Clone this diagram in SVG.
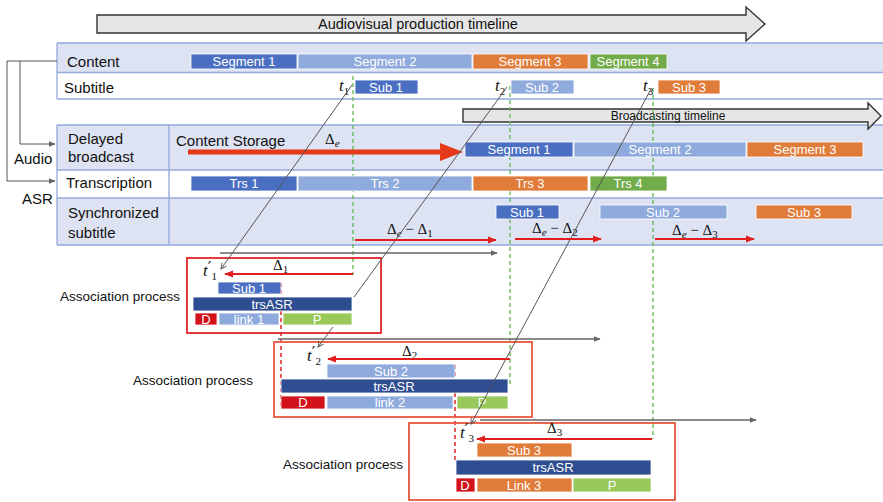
<svg xmlns="http://www.w3.org/2000/svg" width="883" height="502" viewBox="0 0 883 502">
<defs>
<style>
.lbl{font-family:"Liberation Sans",Arial,sans-serif;font-size:15px;fill:#111}
.sm{font-size:12px}
.ap{font-size:13.5px}
.tt{font-size:14.5px}
.bt{font-family:"Liberation Sans",Arial,sans-serif;font-size:13px;fill:#fff;text-anchor:middle}
.m{font-family:"Liberation Serif","DejaVu Serif",serif;fill:#111}
.pr{font-family:"DejaVu Sans",sans-serif;font-style:normal;font-size:16px}
.band{fill:#dde3f2}
.wrow{fill:#fff}
.bl{stroke:#92aadc;stroke-width:1.3;fill:none}
.b1{fill:#4a6fc2;stroke:#fff;stroke-width:0.8}
.b2{fill:#8faadc;stroke:#fff;stroke-width:0.8}
.b3{fill:#e07b39;stroke:#fff;stroke-width:0.8}
.b4{fill:#72ab4a;stroke:#fff;stroke-width:0.8}
.nv{fill:#2f4e92;stroke:#fff;stroke-width:0.8}
.dd{fill:#d3111b;stroke:#fff;stroke-width:0.8}
.pp{fill:#98c95a;stroke:#fff;stroke-width:0.8}
.gd{stroke:#5fb64a;stroke-width:1.3;stroke-dasharray:4 3;fill:none}
.rd{stroke:#e0202a;stroke-width:1.5;stroke-dasharray:4 3;fill:none}
.gl{stroke:#555;stroke-width:1;fill:none}
.ga{stroke:#666;stroke-width:1.3;fill:none}
.ra{stroke:#e01e1e;stroke-width:2;fill:none}
.tl{fill:#e6e6e6;stroke:#333;stroke-width:1.4}
</style>
<marker id="oa" viewBox="0 0 10 10" refX="9" refY="5" markerWidth="7" markerHeight="7" orient="auto" markerUnits="userSpaceOnUse">
<path d="M1,1 L9,5 L1,9" fill="none" stroke="#555" stroke-width="1.3"/>
</marker>
<marker id="ga" viewBox="0 0 10 10" refX="9" refY="5" markerWidth="7" markerHeight="7" orient="auto" markerUnits="userSpaceOnUse">
<path d="M0,1 L10,5 L0,9 z" fill="#666"/>
</marker>
<marker id="ra" viewBox="0 0 10 10" refX="9" refY="5" markerWidth="9" markerHeight="9" orient="auto" markerUnits="userSpaceOnUse">
<path d="M0,1 L10,5 L0,9 z" fill="#e01e1e"/>
</marker>
</defs>

<!-- top timeline -->
<g id="prodTimeline">
<polygon class="tl" points="97,15 746,15 746,7 765,24 746,41 746,33 97,33"/>
<text class="lbl tt" x="318" y="29">Audiovisual production timeline</text>
</g>

<!-- upper panel -->
<g id="upperPanel">
<rect class="band" x="57" y="43" width="826" height="29"/>
<rect class="wrow" x="57" y="72" width="826" height="27"/>
<line class="bl" x1="57" y1="43" x2="883" y2="43"/>
<line class="bl" x1="57" y1="72.5" x2="883" y2="72.5"/>
<line class="bl" x1="57" y1="99" x2="883" y2="99"/>
<line class="bl" x1="57" y1="43" x2="57" y2="99"/>
<text class="lbl" x="67" y="67">Content</text>
<text class="lbl" x="64" y="93">Subtitle</text>
</g>

<!-- lower panel -->
<g id="lowerPanel">
<rect class="band" x="57" y="125" width="826" height="45"/>
<rect class="wrow" x="57" y="170" width="826" height="28"/>
<rect class="band" x="57" y="198" width="826" height="47"/>
<line class="bl" x1="57" y1="125" x2="883" y2="125"/>
<line class="bl" x1="57" y1="170" x2="883" y2="170"/>
<line class="bl" x1="57" y1="198" x2="883" y2="198"/>
<line class="bl" x1="57" y1="245" x2="883" y2="245"/>
<line class="bl" x1="57" y1="125" x2="57" y2="245"/>
<line class="bl" x1="169" y1="125" x2="169" y2="245"/>
<text class="lbl" x="68" y="144">Delayed</text>
<text class="lbl" x="68" y="162">broadcast</text>
<text class="lbl" x="66" y="188">Transcription</text>
<text class="lbl" x="68" y="218">Synchronized</text>
<text class="lbl" x="68" y="238">subtitle</text>
</g>

<g id="broadcastTimeline">
<polygon class="tl" points="463,109 868,109 868,103 881,116 868,129 868,122 463,122"/>
<text class="lbl sm" x="668" y="120" text-anchor="middle">Broadcasting timeline</text>
</g>

<g id="sideLabels">
<text class="lbl" x="14" y="164">Audio</text>
<text class="lbl" x="22" y="204">ASR</text>
</g>

<!-- guide lines -->
<g id="guides">
<line class="gd" x1="353" y1="76" x2="353" y2="275"/>
<line class="gd" x1="510" y1="86" x2="510" y2="384"/>
<line class="gd" x1="653" y1="88" x2="653" y2="439"/>
<line class="rd" x1="281" y1="283" x2="281" y2="408"/>
<line class="rd" x1="455" y1="365" x2="455" y2="460"/>
</g>

<!-- content row -->
<g id="cSeg1"><rect class="b1" x="191" y="54" width="106" height="15"/><text class="bt" x="244" y="66">Segment 1</text></g>
<g id="cSeg2"><rect class="b2" x="298" y="54" width="174" height="15"/><text class="bt" x="385" y="66">Segment 2</text></g>
<g id="cSeg3"><rect class="b3" x="473" y="54" width="115" height="15"/><text class="bt" x="530" y="66">Segment 3</text></g>
<g id="cSeg4"><rect class="b4" x="590" y="54" width="77" height="15"/><text class="bt" x="628" y="66">Segment 4</text></g>

<!-- subtitle row -->
<g id="sSub1"><rect class="b1" x="355" y="80" width="63" height="14"/><text class="bt" x="386" y="91.5">Sub 1</text></g>
<g id="sSub2"><rect class="b2" x="511" y="80" width="63" height="14"/><text class="bt" x="542" y="91.5">Sub 2</text></g>
<g id="sSub3"><rect class="b3" x="658" y="80" width="62" height="14"/><text class="bt" x="689" y="91.5">Sub 3</text></g>
<g id="tLabels" class="m" font-style="italic" font-size="17">
<text x="339" y="91">t<tspan font-size="11" dy="4" font-style="normal">1</tspan></text>
<text x="495" y="91">t<tspan font-size="11" dy="4" font-style="normal">2</tspan></text>
<text x="643" y="91">t<tspan font-size="11" dy="4" font-style="normal">3</tspan></text>
</g>

<!-- delayed broadcast -->
<g id="contentStorage">
<text class="lbl" x="176" y="146">Content Storage</text>
<line x1="188" y1="152" x2="442" y2="152" stroke="#e5391a" stroke-width="5"/>
<polygon points="440,143 463,152 440,161" fill="#e5391a"/>
<text class="m" x="325" y="144" font-size="15">Δ<tspan font-size="11" font-style="italic" dy="3">e</tspan></text>
</g>
<g id="bSeg1"><rect class="b1" x="465" y="142" width="108" height="15"/><text class="bt" x="519" y="154">Segment 1</text></g>
<g id="bSeg2"><rect class="b2" x="574" y="142" width="172" height="15"/><text class="bt" x="660" y="154">Segment 2</text></g>
<g id="bSeg3"><rect class="b3" x="747" y="142" width="116" height="15"/><text class="bt" x="805" y="154">Segment 3</text></g>

<!-- transcription -->
<g id="trs1"><rect class="b1" x="191" y="176" width="106" height="15"/><text class="bt" x="244" y="188">Trs 1</text></g>
<g id="trs2"><rect class="b2" x="298" y="176" width="174" height="15"/><text class="bt" x="385" y="188">Trs 2</text></g>
<g id="trs3"><rect class="b3" x="473" y="176" width="115" height="15"/><text class="bt" x="530" y="188">Trs 3</text></g>
<g id="trs4"><rect class="b4" x="590" y="176" width="77" height="15"/><text class="bt" x="628" y="188">Trs 4</text></g>

<!-- synchronized -->
<g id="ySub1"><rect class="b1" x="496" y="205" width="63" height="14"/><text class="bt" x="527" y="216.5">Sub 1</text></g>
<g id="ySub2"><rect class="b2" x="600" y="205" width="127" height="14"/><text class="bt" x="663" y="216.5">Sub 2</text></g>
<g id="ySub3"><rect class="b3" x="756" y="205" width="96" height="14"/><text class="bt" x="804" y="216.5">Sub 3</text></g>
<g id="syncDeltas" class="m" font-size="15">
<text x="387" y="234">Δ<tspan font-size="11" font-style="italic" dy="3">e</tspan><tspan dy="-3"> − Δ</tspan><tspan font-size="11" dy="3">1</tspan></text>
<text x="532" y="233">Δ<tspan font-size="11" font-style="italic" dy="3">e</tspan><tspan dy="-3"> − Δ</tspan><tspan font-size="11" dy="3">2</tspan></text>
<text x="672" y="235">Δ<tspan font-size="11" font-style="italic" dy="3">e</tspan><tspan dy="-3"> − Δ</tspan><tspan font-size="11" dy="3">3</tspan></text>
</g>

<!-- association box 1 -->
<g id="assoc1">
<rect x="187" y="258" width="194" height="75" fill="none" stroke="#e2262c" stroke-width="1.8"/>
<rect class="b1" x="218" y="282" width="63" height="12"/><text class="bt" x="249" y="292.5">Sub 1</text>
<rect class="nv" x="193" y="297" width="159" height="14"/><text class="bt" x="272" y="308.5">trsASR</text>
<rect class="dd" x="195" y="313" width="22" height="12"/><text class="bt" x="206" y="323.5">D</text>
<rect class="b2" x="219" y="313" width="60" height="12"/><text class="bt" x="249" y="323.5">link 1</text>
<rect class="pp" x="283" y="313" width="69" height="12"/><text class="bt" x="317" y="323.5">P</text>
<text class="m" x="203" y="276" font-size="17" font-style="italic">t<tspan class="pr" dy="-3">′</tspan><tspan font-size="11" dy="7" font-style="normal">1</tspan></text>
<text class="m" x="273" y="270" font-size="15">Δ<tspan font-size="11" dy="3">1</tspan></text>
</g>
<text id="assocLbl1" class="lbl ap" x="60" y="301">Association process</text>

<!-- association box 2 -->
<g id="assoc2">
<rect x="274" y="342" width="258" height="75" fill="none" stroke="#e8583c" stroke-width="1.8"/>
<rect class="b2" x="327" y="364" width="128" height="14"/><text class="bt" x="391" y="375.5">Sub 2</text>
<rect class="nv" x="281" y="379" width="227" height="14"/><text class="bt" x="394" y="390.5">trsASR</text>
<rect class="dd" x="281" y="396" width="44" height="13"/><text class="bt" x="303" y="407">D</text>
<rect class="b2" x="327" y="396" width="126" height="13"/><text class="bt" x="390" y="407">link 2</text>
<rect class="pp" x="457" y="396" width="51" height="13"/><text class="bt" x="482" y="407">P</text>
<text class="m" x="307" y="361" font-size="17" font-style="italic">t<tspan class="pr" dy="-3">′</tspan><tspan font-size="11" dy="7" font-style="normal">2</tspan></text>
<text class="m" x="402" y="356" font-size="15">Δ<tspan font-size="11" dy="3">2</tspan></text>
</g>
<text id="assocLbl2" class="lbl ap" x="133" y="385">Association process</text>

<!-- association box 3 -->
<g id="assoc3">
<rect x="409" y="423" width="266" height="77" fill="none" stroke="#e8583c" stroke-width="1.8"/>
<rect class="b3" x="477" y="443" width="95" height="14"/><text class="bt" x="524" y="454.5">Sub 3</text>
<rect class="nv" x="456" y="460" width="195" height="15"/><text class="bt" x="553" y="472">trsASR</text>
<rect class="dd" x="456" y="478" width="19" height="14"/><text class="bt" x="465" y="489.5">D</text>
<rect class="b3" x="477" y="478" width="95" height="14"/><text class="bt" x="524" y="489.5">Link 3</text>
<rect class="pp" x="573" y="478" width="78" height="14"/><text class="bt" x="612" y="489.5">P</text>
<text class="m" x="460" y="438" font-size="17" font-style="italic">t<tspan class="pr" dy="-3">′</tspan><tspan font-size="11" dy="7" font-style="normal">3</tspan></text>
<text class="m" x="547" y="433" font-size="15">Δ<tspan font-size="11" dy="3">3</tspan></text>
</g>
<text id="assocLbl3" class="lbl ap" x="283" y="469">Association process</text>

<!-- connectors -->
<g id="connectors">
<polyline class="gl" points="57,61 7,61 7,181 55,181" marker-end="url(#ga)"/>
<polyline class="gl" points="20,61 20,144 55,144" marker-end="url(#ga)"/>
<line class="ga" x1="220" y1="253" x2="497" y2="253" marker-end="url(#ga)"/>
<line class="ga" x1="278" y1="339" x2="600" y2="339" marker-end="url(#ga)"/>
<line class="ga" x1="480" y1="420" x2="756" y2="420" marker-end="url(#ga)"/>
<line class="gl" x1="352" y1="85" x2="221" y2="269" marker-end="url(#oa)"/>
<line class="gl" x1="507" y1="87" x2="354" y2="297"/>
<line class="gl" x1="333" y1="327" x2="318" y2="347" marker-end="url(#oa)"/>
<line class="gl" x1="651" y1="89" x2="471" y2="424" marker-end="url(#oa)"/>
<line class="ra" x1="353" y1="274" x2="225" y2="274" marker-end="url(#ra)"/>
<line class="ra" x1="510" y1="359" x2="328" y2="359" marker-end="url(#ra)"/>
<line class="ra" x1="652" y1="439" x2="477" y2="439" marker-end="url(#ra)"/>
<line class="ra" x1="355" y1="240" x2="496" y2="240" marker-end="url(#ra)"/>
<line class="ra" x1="515" y1="239" x2="601" y2="239" marker-end="url(#ra)"/>
<line class="ra" x1="655" y1="239" x2="754" y2="239" marker-end="url(#ra)"/>
</g>
</svg>
